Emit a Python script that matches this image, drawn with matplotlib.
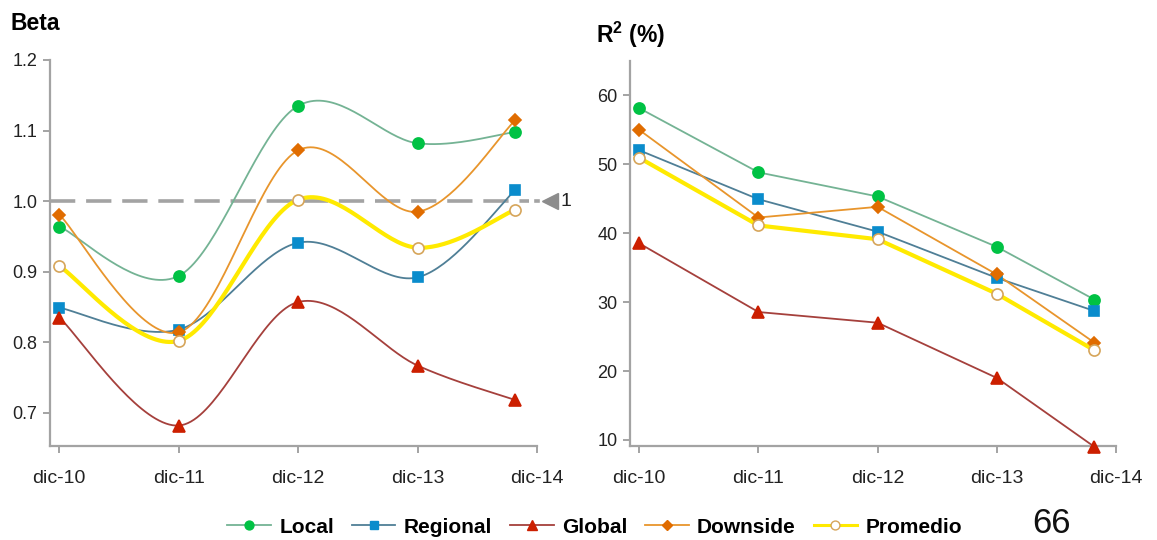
import numpy as np
import matplotlib
matplotlib.use("Agg")
import matplotlib.pyplot as plt
from matplotlib.lines import Line2D

plt.rcParams['font.family'] = ['Liberation Sans', 'DejaVu Sans']
plt.rcParams['mathtext.fontset'] = 'custom'
plt.rcParams['mathtext.rm'] = 'Liberation Sans'
plt.rcParams['mathtext.bf'] = 'Liberation Sans:bold'

# fechas de corte; el último dato cae antes del fin de dic-14
fechas = ['dic-10', 'dic-11', 'dic-12', 'dic-13', 'dic-14']
x_pos = [0, 1, 2, 3, 3.82]

series = ['Local', 'Regional', 'Global', 'Downside', 'Promedio']

beta_local = [0.964, 0.894, 1.135, 1.082, 1.098]
beta_regional = [0.849, 0.818, 0.941, 0.892, 1.016]
beta_global = [0.835, 0.682, 0.857, 0.767, 0.718]
beta_downside = [0.981, 0.814, 1.072, 0.985, 1.115]
beta_promedio = [0.908, 0.802, 1.002, 0.934, 0.988]

r2_local = [58.1, 48.8, 45.3, 38.0, 30.35]
r2_regional = [52.0, 44.9, 40.2, 33.5, 28.7]
r2_global = [38.5, 28.55, 27.0, 19.0, 9.0]
r2_downside = [54.95, 42.25, 43.8, 34.0, 24.1]
r2_promedio = [50.9, 41.1, 39.1, 31.2, 23.0]

beta = [beta_local, beta_regional, beta_global, beta_downside, beta_promedio]
r2 = [r2_local, r2_regional, r2_global, r2_downside, r2_promedio]

# estilo de cada serie: color de línea, marcador, color de marcador, borde, grosor
estilos = {
    'Local':    dict(lc='#74b394', m='o', mfc='#00c244', mec='#00c244', lw=1.3, ms=8),
    'Regional': dict(lc='#4f7f96', m='s', mfc='#0a8ccc', mec='#0a8ccc', lw=1.3, ms=7.5),
    'Global':   dict(lc='#a5403c', m='^', mfc='#cc1f00', mec='#cc1f00', lw=1.3, ms=9),
    'Downside': dict(lc='#e8952c', m='D', mfc='#e06c00', mec='#e06c00', lw=1.3, ms=6.5),
    'Promedio': dict(lc='#ffea00', m='o', mfc='white', mec='#d6a55a', lw=3.0, ms=8),
}

GRIS = '#a3a3a3'


def suavizar(x, y, n=40):
    """Curva tipo Catmull-Rom (suavizado de Excel) entre los puntos."""
    p = np.column_stack([x, y]).astype(float)
    p = np.vstack([p[0], p, p[-1]])
    t = np.linspace(0, 1, n)[:, None]
    tramos = []
    for i in range(1, len(p) - 2):
        p0, p1, p2, p3 = p[i - 1], p[i], p[i + 1], p[i + 2]
        c1 = p1 + (p2 - p0) / 6
        c2 = p2 - (p3 - p1) / 6
        b = ((1 - t) ** 3) * p1 + 3 * ((1 - t) ** 2) * t * c1 + 3 * (1 - t) * t ** 2 * c2 + t ** 3 * p2
        tramos.append(b)
    c = np.vstack(tramos)
    return c[:, 0], c[:, 1]


def preparar_ejes(ax, ylim, yticks, fmt):
    ax.set_xlim(-0.078, 4.0)
    ax.set_ylim(*ylim)
    ax.set_xticks(range(len(fechas)))
    ax.set_xticklabels(fechas, fontsize=14, color='#222222')
    ax.set_yticks(yticks)
    ax.set_yticklabels([fmt % v for v in yticks], fontsize=13, color='#222222')
    for lado in ['top', 'right']:
        ax.spines[lado].set_visible(False)
    for lado in ['left', 'bottom']:
        ax.spines[lado].set_color(GRIS)
        ax.spines[lado].set_linewidth(1.6)
    ax.tick_params(direction='out', length=5, width=1.4, color=GRIS, pad=4)
    ax.tick_params(axis='x', pad=12)


fig = plt.figure(figsize=(11.57, 5.40), dpi=100)
ax1 = fig.add_axes([0.0432, 0.1741, 0.4209, 0.7148])
ax2 = fig.add_axes([0.5445, 0.1741, 0.4200, 0.7137])

# Beta con líneas suavizadas
preparar_ejes(ax1, (0.653, 1.2), [0.7, 0.8, 0.9, 1.0, 1.1, 1.2], '%.1f')
ax1.plot([-0.078, 3.93], [1.0, 1.0], color=GRIS, lw=2.6, dashes=(7, 3), zorder=1, clip_on=False)
ax1.plot([3.99, 4.01], [1.0, 1.0], color=GRIS, lw=2.6, zorder=1, clip_on=False)
ax1.plot([4.11], [1.0], marker='<', ms=12, color='#8c8c8c', clip_on=False)
ax1.text(4.2, 1.0, '1', fontsize=14, va='center', ha='left', color='#222222')

for nombre, valores in zip(series, beta):
    e = estilos[nombre]
    xs, ys = suavizar(x_pos, valores)
    ax1.plot(xs, ys, color=e['lc'], lw=e['lw'], zorder=2)
    ax1.plot(x_pos, valores, ls='none', marker=e['m'], ms=e['ms'], mfc=e['mfc'],
             mec=e['mec'], mew=1.2, zorder=3, clip_on=False)

# R2 con líneas rectas
preparar_ejes(ax2, (9.13, 65), [10, 20, 30, 40, 50, 60], '%d')
for nombre, valores in zip(series, r2):
    e = estilos[nombre]
    ax2.plot(x_pos, valores, color=e['lc'], lw=e['lw'], zorder=2)
    ax2.plot(x_pos, valores, ls='none', marker=e['m'], ms=e['ms'], mfc=e['mfc'],
             mec=e['mec'], mew=1.2, zorder=3, clip_on=False)

fig.text(0.0095, 0.956, 'Beta', fontsize=16.5, fontweight='bold', va='center', ha='left')
fig.text(0.515, 0.936, r'R$^{\mathbf{2}}$ (%)', fontsize=16.5, fontweight='bold',
         va='center', ha='left')

manejadores = []
for nombre in series:
    e = estilos[nombre]
    manejadores.append(Line2D([], [], color=e['lc'], lw=min(e['lw'], 2.2), marker=e['m'],
                              ms=e['ms'] * 0.8, mfc=e['mfc'], mec=e['mec'], mew=1.0))
leg = fig.legend(manejadores, series, loc='center', bbox_to_anchor=(0.514, 0.024), ncol=5,
                 frameon=False, handlelength=2.1, handletextpad=0.4, columnspacing=0.85,
                 prop={'weight': 'bold', 'size': 15})

fig.text(0.909, 0.030, '66', fontsize=25, va='center', ha='center', color='#111111')

fig.savefig('out.png', dpi=100)
